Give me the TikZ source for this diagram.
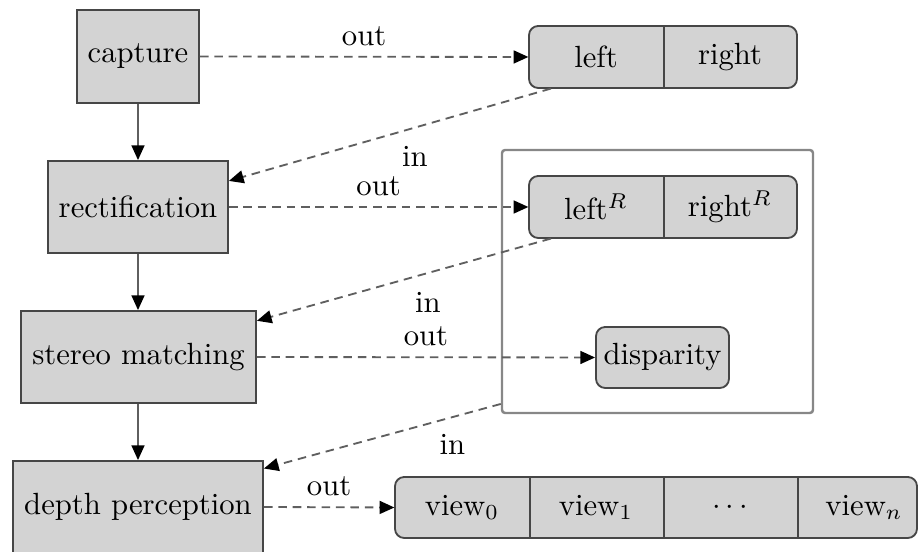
\documentclass[tikz,border=0pt]{standalone}
\usetikzlibrary{arrows.meta}
\definecolor{boxfill}{RGB}{211,211,211}
\definecolor{boxline}{RGB}{70,70,70}
\definecolor{conline}{RGB}{95,95,95}
\definecolor{frameline}{RGB}{135,135,135}
\begin{document}
\begin{tikzpicture}[x=0.32609pt, y=-0.32609pt,
  sz/.style 2 args={minimum width=#1*0.32609pt, minimum height=#2*0.32609pt, inner sep=0pt},
  proc/.style={draw=boxline, fill=boxfill, line width=0.6pt},
  store/.style={draw=boxline, fill=boxfill, line width=0.6pt, rounded corners=3pt},
  cell/.style={sz={134}{62}},
  divider/.style={draw=boxline, line width=0.6pt},
  flow/.style={draw=conline, line width=0.6pt, -{Triangle[length=4.8pt,width=4.2pt,color=black]}},
  io/.style={flow, dash pattern=on 2.8pt off 1.9pt},
  lbl/.style={anchor=base, inner sep=0pt},
  frame/.style={draw=frameline, line width=0.8pt, rounded corners=1pt}]

\useasboundingbox (0,0) rectangle (920,552);

% process boxes
\node[proc, sz={122}{93}] (cap) at (138,56.5) {capture};
\node[proc, sz={180}{92}] (rect) at (138,207) {rectification};
\node[proc, sz={235}{92}] (stm) at (138.5,357) {stereo matching};
\node[proc, sz={250}{92}] (dep) at (138,507) {depth perception};

% group frame
\node[frame, sz={311}{263}] (grp) at (657.5,281.5) {};

% raw pair
\node[store, sz={268}{62}] (raw) at (663,57) {};
\node[cell] (left) at (596,57) {left};
\node[cell] (right) at (730,57) {right};
\draw[divider] (left.north east) -- (left.south east);

% rectified pair
\node[store, sz={268}{62}] (rpair) at (663,207) {};
\node[cell] (leftR) at (596,207) {left$^R$};
\node[cell] (rightR) at (730,207) {right$^R$};
\draw[divider] (leftR.north east) -- (leftR.south east);

% disparity
\node[store, sz={133}{61}] (disp) at (662.5,357.5) {disparity};

% views
\node[store, sz={522}{61}] (views) at (656,507.5) {};
\node[sz={134}{61}] (v0) at (462,507.5) {view$_0$};
\node[sz={134}{61}] (v1) at (596,507.5) {view$_1$};
\node[sz={134}{61}] (vd) at (730,507.5) {$\cdots$};
\node[sz={134}{61}] (vn) at (864,507.5) {view$_n$};
\draw[divider] (v0.north east) -- (v0.south east);
\draw[divider] (v1.north east) -- (v1.south east);
\draw[divider] (vd.north east) -- (vd.south east);

% control flow
\draw[flow] (cap.south) -- (rect.north);
\draw[flow] (rect.south) -- (rect.south |- stm.north);
\draw[flow] (rect.south |- stm.south) -- (dep.north);

% outputs
\draw[io] (cap.east) -- (left.west) node[midway, above] {out};
\draw[io] (rect.east) -- (leftR.west) node[midway, above] {out};
\draw[io] (stm.east) -- (disp.west) node[midway, above] {out};
\draw[io] (dep.east) -- (v0.west) node[midway, above] {out};

% inputs
\draw[io] (left.215.8) -- (rect.16.7);
\draw[io] (leftR.215.2) -- (stm.17.5);
\draw[io] (grp.218) -- (dep.17.7);
\node[lbl] (in1) at (415,167) {in};
\node[lbl] (in2) at (428,313) {in};
\node[lbl] (in3) at (452.5,455) {in};

\end{tikzpicture}
\end{document}
